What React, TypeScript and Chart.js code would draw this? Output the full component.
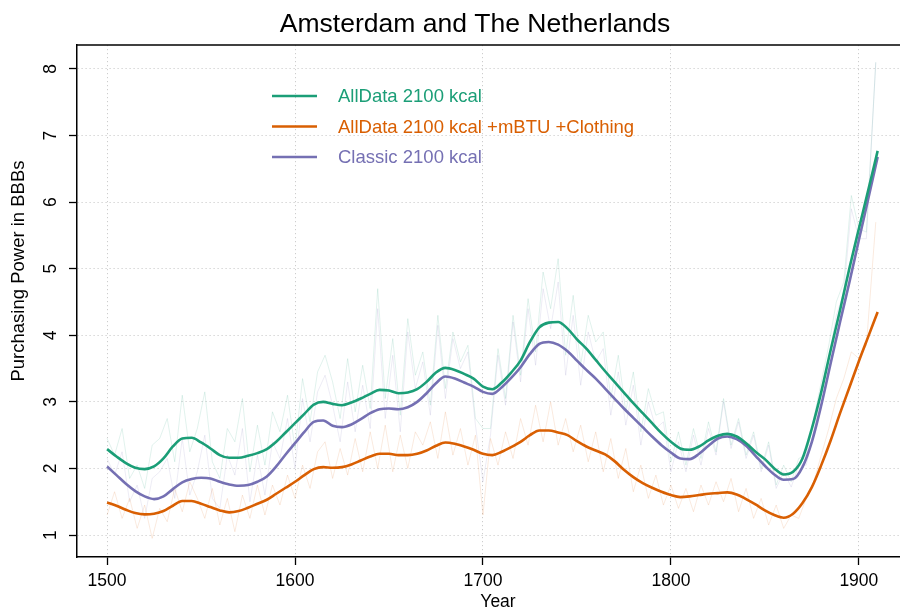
import React, { useEffect, useRef } from "react";
import { Chart, registerables } from "chart.js";

Chart.register(...registerables);

// ---------- data ----------
const chartTitle = "Amsterdam and The Netherlands";
const xTitle = "Year";
const yTitle = "Purchasing Power in BBBs";
const seriesLabels = [
  "AllData 2100 kcal",
  "AllData 2100 kcal +mBTU +Clothing",
  "Classic 2100 kcal",
];
const seriesColors = ["#1B9E77", "#D95F02", "#7570B3"];
const rawColors = [
  "rgba(27,158,119,0.13)",
  "rgba(217,95,2,0.13)",
  "rgba(117,112,179,0.13)",
];
const xTicks = [1500, 1600, 1700, 1800, 1900];
const yTicks = [1, 2, 3, 4, 5, 6, 7, 8];

const smoothYears = [
  1500, 1505, 1510, 1515, 1520, 1525, 1530, 1535, 1540, 1545,
  1550, 1555, 1560, 1565, 1570, 1575, 1580, 1585, 1590, 1595,
  1600, 1605, 1610, 1615, 1620, 1625, 1630, 1635, 1640, 1645,
  1650, 1655, 1660, 1665, 1670, 1675, 1680, 1685, 1690, 1695,
  1700, 1705, 1710, 1715, 1720, 1725, 1730, 1735, 1740, 1745,
  1750, 1755, 1760, 1765, 1770, 1775, 1780, 1785, 1790, 1795,
  1800, 1805, 1810, 1815, 1820, 1825, 1830, 1835, 1840, 1845,
  1850, 1855, 1860, 1865, 1870, 1875, 1880, 1885, 1890, 1895,
  1900, 1905, 1910,
];

const allData2100 = [
  2.29, 2.18, 2.08, 2.01, 1.99, 2.03, 2.15, 2.33, 2.45, 2.46,
  2.39, 2.30, 2.20, 2.16, 2.16, 2.19, 2.23, 2.29, 2.40, 2.54,
  2.68, 2.82, 2.96, 3.00, 2.97, 2.95, 2.99, 3.05, 3.12, 3.18,
  3.17, 3.13, 3.14, 3.19, 3.30, 3.44, 3.51, 3.48, 3.42, 3.35,
  3.23, 3.19, 3.29, 3.44, 3.62, 3.90, 4.12, 4.19, 4.20, 4.10,
  3.94, 3.80, 3.63, 3.46, 3.30, 3.14, 2.98, 2.83, 2.68, 2.53,
  2.40, 2.30, 2.28, 2.33, 2.42, 2.49, 2.52, 2.48, 2.38, 2.25,
  2.14, 2.00, 1.91, 1.95, 2.15, 2.60, 3.15, 3.78, 4.38, 5.01,
  5.60, 6.18, 6.77,
];

const allDataMbtuClothing = [
  1.49, 1.44, 1.38, 1.33, 1.31, 1.32, 1.36, 1.44, 1.51, 1.51,
  1.47, 1.42, 1.37, 1.34, 1.36, 1.41, 1.47, 1.53, 1.62, 1.71,
  1.80, 1.90, 1.99, 2.02, 2.01, 2.02, 2.06, 2.12, 2.18, 2.22,
  2.22, 2.20, 2.20, 2.22, 2.27, 2.34, 2.39, 2.37, 2.33, 2.28,
  2.22, 2.20, 2.25, 2.32, 2.40, 2.50, 2.57, 2.57, 2.54, 2.50,
  2.41, 2.33, 2.27, 2.21, 2.11, 1.98, 1.87, 1.78, 1.71, 1.65,
  1.60, 1.57, 1.58, 1.60, 1.62, 1.63, 1.64, 1.61, 1.54, 1.46,
  1.37, 1.30, 1.26, 1.32, 1.48, 1.72, 2.05, 2.42, 2.83, 3.22,
  3.61, 3.98, 4.35,
];

const classic2100 = [
  2.03, 1.90, 1.77, 1.66, 1.58, 1.54, 1.58, 1.69, 1.79, 1.84,
  1.86, 1.85, 1.80, 1.76, 1.74, 1.75, 1.80, 1.88, 2.03, 2.21,
  2.38, 2.55, 2.70, 2.72, 2.64, 2.62, 2.66, 2.74, 2.83, 2.89,
  2.90, 2.89, 2.92, 3.00, 3.13, 3.28, 3.38, 3.35, 3.29, 3.23,
  3.15, 3.12, 3.22, 3.36, 3.52, 3.72, 3.87, 3.90, 3.86, 3.76,
  3.62, 3.48, 3.35, 3.20, 3.05, 2.90, 2.76, 2.62, 2.48, 2.35,
  2.24, 2.15, 2.14, 2.22, 2.34, 2.45, 2.48, 2.44, 2.34, 2.19,
  2.04, 1.91, 1.83, 1.84, 2.02, 2.40, 2.95, 3.58, 4.20, 4.80,
  5.43, 6.05, 6.68,
];

const rawYears = [
  1500, 1504, 1508, 1512, 1516, 1520, 1524, 1528, 1532, 1536,
  1540, 1544, 1548, 1552, 1556, 1560, 1564, 1568, 1572, 1576,
  1580, 1584, 1588, 1592, 1596, 1600, 1604, 1608, 1612, 1616,
  1620, 1624, 1628, 1632, 1636, 1640, 1644, 1648, 1652, 1656,
  1660, 1664, 1668, 1672, 1676, 1680, 1684, 1688, 1692, 1696,
  1700, 1704, 1708, 1712, 1716, 1720, 1724, 1728, 1732, 1736,
  1740, 1744, 1748, 1752, 1756, 1760, 1764, 1768, 1772, 1776,
  1780, 1784, 1788, 1792, 1796, 1800, 1804, 1808, 1812, 1816,
  1820, 1824, 1828, 1832, 1836, 1840, 1844, 1848, 1852, 1856,
  1860, 1864, 1868, 1872, 1876, 1880, 1884, 1888, 1892, 1896,
  1900, 1904, 1909,
];

const rawAllData2100 = [
  2.45, 2.20, 2.60, 1.85, 2.05, 1.70, 2.35, 2.45, 2.75, 2.10,
  3.10, 2.25, 2.60, 3.15, 2.10, 1.85, 2.60, 2.40, 3.05, 1.95,
  2.65, 2.05, 2.85, 2.55, 3.10, 2.30, 3.35, 2.70, 3.45, 3.70,
  3.30, 2.75, 3.65, 2.85, 3.55, 2.90, 4.70, 3.05, 3.95, 2.80,
  4.25, 3.40, 3.75, 2.95, 4.30, 3.20, 4.05, 3.60, 3.85, 2.75,
  2.60, 2.60, 3.80, 3.05, 4.30, 3.40, 4.55, 3.75, 4.95, 4.40,
  5.15, 3.70, 4.60, 3.55, 4.30, 3.90, 4.05, 3.05, 3.70, 2.85,
  3.45, 2.55, 3.20, 2.80, 2.85, 2.10, 2.55, 2.05, 2.60, 2.15,
  2.70, 2.25, 3.05, 2.35, 2.75, 2.20, 2.55, 2.00, 2.40, 1.75,
  2.05, 1.80, 2.15, 2.20, 2.75, 3.30, 3.85, 4.50, 4.80, 6.10,
  5.60, 5.55, 8.10,
];

const rawAllDataMbtuClothing = [
  1.30, 1.65, 1.25, 1.55, 1.10, 1.45, 0.95, 1.40, 1.20, 1.70,
  1.35, 1.80, 1.55, 1.25, 1.70, 1.15, 1.55, 1.05, 1.60, 1.25,
  1.75, 1.30, 1.75, 1.45, 1.90, 1.55, 2.05, 1.70, 2.25, 2.40,
  1.85, 2.30, 1.90, 2.45, 1.95, 2.55, 2.00, 2.65, 1.95, 2.50,
  2.00, 2.55, 2.35, 2.70, 2.15, 2.85, 2.20, 2.60, 2.05, 2.50,
  1.30, 2.45, 2.05, 2.55, 2.15, 2.75, 2.35, 2.95, 2.40, 3.00,
  2.35, 2.75, 2.25, 2.65, 2.10, 2.55, 1.95, 2.45, 1.85, 2.30,
  1.65, 2.05, 1.55, 1.90, 1.45, 1.75, 1.40, 1.70, 1.35, 1.75,
  1.45, 1.80, 1.50, 1.85, 1.35, 1.70, 1.25, 1.55, 1.15, 1.45,
  1.10, 1.30, 1.25, 1.55, 1.80, 2.20, 2.60, 3.05, 3.35, 3.75,
  3.65, 3.85, 5.70,
];

const rawClassic2100 = [
  2.15, 1.90, 2.25, 1.50, 1.75, 1.25, 1.85, 1.95, 2.15, 1.55,
  2.45, 1.60, 1.95, 2.50, 1.55, 1.40, 2.20, 1.90, 2.60, 1.50,
  2.20, 1.60, 2.40, 2.15, 2.75, 2.00, 3.05, 2.40, 3.15, 3.40,
  2.95, 2.40, 3.30, 2.55, 3.25, 2.60, 4.40, 2.75, 3.70, 2.55,
  4.05, 3.20, 3.60, 2.80, 4.15, 3.05, 3.95, 3.50, 3.75, 2.65,
  1.80, 2.50, 3.70, 2.95, 4.20, 3.30, 4.40, 3.55, 4.70, 4.10,
  4.80, 3.40, 4.30, 3.25, 4.05, 3.60, 3.80, 2.80, 3.45, 2.65,
  3.25, 2.35, 3.00, 2.60, 2.70, 1.95, 2.40, 1.95, 2.50, 2.05,
  2.60, 2.20, 3.00, 2.30, 2.70, 2.15, 2.50, 1.95, 2.35, 1.70,
  1.95, 1.72, 2.05, 2.05, 2.55, 3.10, 3.65, 4.30, 4.65, 5.90,
  5.45, 5.45, 8.10,
];

// ---------- helpers ----------
const FONT = "'Liberation Sans', Arial, Helvetica, sans-serif";

const toPoints = (xs: number[], ys: number[]) =>
  xs.map((x, i) => ({ x, y: ys[i] }));

const framePlugin = {
  id: "frameAndLegend",
  afterDraw(chart: any) {
    const ctx: CanvasRenderingContext2D = chart.ctx;
    const { left, right, top } = chart.chartArea;
    ctx.save();
    // top frame line
    ctx.strokeStyle = "#000";
    ctx.lineWidth = 1.5;
    ctx.beginPath();
    ctx.moveTo(left, top);
    ctx.lineTo(right, top);
    ctx.stroke();

    // main title
    ctx.font = `26.5px ${FONT}`;
    ctx.fillStyle = "#000";
    ctx.textAlign = "center";
    ctx.textBaseline = "middle";
    ctx.fillText(chartTitle, 475, 25);

    // y axis title
    ctx.save();
    ctx.translate(19, 271);
    ctx.rotate(-Math.PI / 2);
    ctx.font = `18.5px ${FONT}`;
    ctx.fillStyle = "#000";
    ctx.textAlign = "center";
    ctx.textBaseline = "middle";
    ctx.fillText(yTitle, 0, 0);
    ctx.restore();

    // legend
    const lx0 = left + 195;
    const lx1 = left + 240;
    const tx = left + 261;
    const ly = [top + 51, top + 81.5, top + 112];
    ctx.font = `18.5px ${FONT}`;
    ctx.textAlign = "left";
    ctx.textBaseline = "middle";
    seriesLabels.forEach((lab, i) => {
      ctx.strokeStyle = seriesColors[i];
      ctx.lineWidth = 2.6;
      ctx.beginPath();
      ctx.moveTo(lx0, ly[i]);
      ctx.lineTo(lx1, ly[i]);
      ctx.stroke();
      ctx.fillStyle = seriesColors[i];
      ctx.fillText(lab, tx, ly[i] + 1);
    });
    ctx.restore();
  },
};

export default function App() {
  const canvasRef = useRef<HTMLCanvasElement | null>(null);

  useEffect(() => {
    const canvas = canvasRef.current;
    if (!canvas) return;

    const smoothSets = [allData2100, allDataMbtuClothing, classic2100].map(
      (vals, i) => ({
        label: seriesLabels[i],
        data: toPoints(smoothYears, vals),
        borderColor: seriesColors[i],
        backgroundColor: seriesColors[i],
        borderWidth: 2.6,
        pointRadius: 0,
        cubicInterpolationMode: "monotone" as const,
        fill: false,
      })
    );
    const rawSets = [rawAllData2100, rawAllDataMbtuClothing, rawClassic2100].map(
      (vals, i) => ({
        label: seriesLabels[i] + " (annual)",
        data: toPoints(rawYears, vals),
        borderColor: rawColors[i],
        backgroundColor: rawColors[i],
        borderWidth: 1,
        pointRadius: 0,
        tension: 0,
        fill: false,
      })
    );

    const gridCommon = {
      color: "#cdcdcd",
      lineWidth: 1,
      tickColor: "#000",
      tickLength: 8,
      tickWidth: 1.3,
      drawOnChartArea: true,
      drawTicks: true,
    };
    const borderCommon = {
      display: true,
      color: "#000",
      width: 1.5,
      dash: [1.2, 2.8],
    };

    const chart = new Chart(canvas, {
      type: "line",
      data: { datasets: [...smoothSets, ...rawSets] as any },
      options: {
        responsive: false,
        animation: false,
        devicePixelRatio: 1,
        layout: { padding: { left: 0, right: 31, top: 45, bottom: 0 } },
        plugins: {
          legend: { display: false },
          tooltip: { enabled: false },
          title: { display: false },
        },
        scales: {
          x: {
            type: "linear",
            min: 1484,
            max: 1932,
            afterBuildTicks: (s: any) => {
              s.ticks = xTicks.map((v) => ({ value: v }));
            },
            afterFit: (s: any) => {
              s.height = 54;
            },
            ticks: {
              autoSkip: false,
              maxRotation: 0,
              minRotation: 0,
              padding: 6,
              color: "#000",
              font: { family: FONT, size: 17.5 },
              callback: (v: any) => String(v),
            },
            grid: gridCommon,
            border: borderCommon,
            title: {
              display: true,
              text: xTitle,
              color: "#000",
              font: { family: FONT, size: 17.5, lineHeight: 1.2 },
              padding: { top: 0, bottom: -2 },
            },
          },
          y: {
            type: "linear",
            min: 0.67,
            max: 8.36,
            afterBuildTicks: (s: any) => {
              s.ticks = yTicks.map((v) => ({ value: v }));
            },
            afterFit: (s: any) => {
              s.width = 77;
            },
            ticks: {
              autoSkip: false,
              minRotation: 90,
              maxRotation: 90,
              crossAlign: "center",
              padding: 13,
              color: "#000",
              font: { family: FONT, size: 17.5 },
              callback: (v: any) => String(v),
            },
            grid: gridCommon,
            border: borderCommon,
          },
        },
      } as any,
      plugins: [framePlugin],
    });

    return () => {
      chart.destroy();
    };
  }, []);

  return (
    <div
      style={{
        position: "absolute",
        left: 0,
        top: 0,
        width: 900,
        height: 611,
        overflow: "hidden",
        background: "#fff",
      }}
    >
      <canvas
        ref={canvasRef}
        width={950}
        height={611}
        style={{ display: "block", width: 950, height: 611 }}
      />
    </div>
  );
}
